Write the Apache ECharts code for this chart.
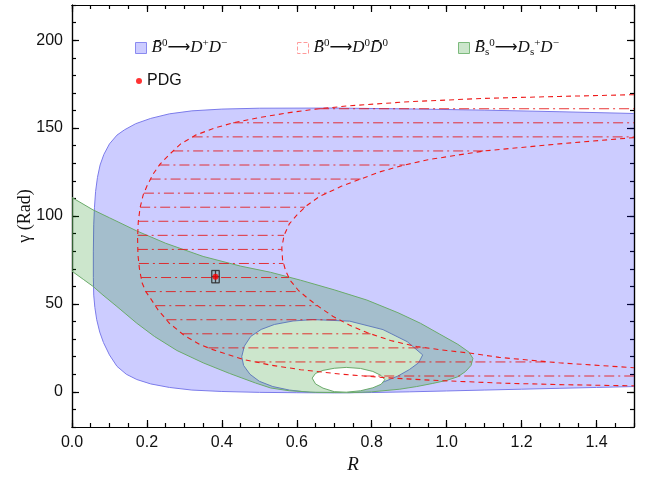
<!DOCTYPE html>
<html lang="en">
<head>
<meta charset="UTF-8">
<title>gamma vs R</title>
<script src="https://cdn.jsdelivr.net/npm/echarts@6.0.0/dist/echarts.min.js"></script>
</head>
<body style="margin:0">
<div id="chart" style="width:645px;height:485px;"></div>
<script>
// region boundaries, points are [R, gamma]
var blueRegion = [[1.5,158.3],[1.3,159.3],[1.1,160.2],[0.9,160.9],[0.7,161.4],[0.5,161.3],[0.4,160.8],[0.32,159.8],[0.26,158.1],[0.21,155.5],[0.17,152.5],[0.14,149],[0.12,146],[0.1,141],[0.085,135],[0.075,129],[0.068,122],[0.063,114],[0.06,105],[0.058,95],[0.057,80],[0.057,65],[0.058,55],[0.061,48],[0.066,41],[0.074,34],[0.084,28],[0.1,21],[0.12,14.5],[0.145,10],[0.173,7],[0.21,4.5],[0.26,2.5],[0.32,1],[0.4,0.2],[0.5,-0.3],[0.6,-0.5],[0.7,-0.6],[0.8,-0.4],[0.9,0],[1.0,0.5],[1.1,1],[1.2,1.5],[1.3,2],[1.4,2.5],[1.5,3]];
var blueHole = [[0.643,41.1],[0.741,40.2],[0.83,35.4],[0.895,28.5],[0.936,21],[0.925,16.5],[0.9,12.6],[0.87,9],[0.835,5.9],[0.79,2.8],[0.736,0.4],[0.69,-0.3],[0.635,-0.3],[0.58,1],[0.536,3],[0.5,6],[0.475,10],[0.458,15],[0.453,20],[0.46,26],[0.477,31.5],[0.505,35.5],[0.54,38.3],[0.59,40.3]];
var greenBand = [[0,110.5],[0.056,103.5],[0.1,99],[0.173,91.5],[0.25,84.5],[0.35,77],[0.45,71.5],[0.53,68],[0.61,63.5],[0.7,58],[0.787,52.2],[0.87,45],[0.93,39],[0.98,33],[1.03,27],[1.06,22.5],[1.07,19],[1.065,15],[1.05,11.5],[1.03,8.6],[1.0,6.5],[0.963,4.8],[0.92,3],[0.875,1.5],[0.8,0],[0.74,-0.5],[0.65,-0.3],[0.58,0.6],[0.53,2.2],[0.49,5],[0.42,10.5],[0.35,16.5],[0.28,23.5],[0.22,31.5],[0.173,39],[0.12,48.5],[0.08,55.5],[0.056,60],[0.03,64],[0,68.6]];
var greenHole = [[0.641,7.8],[0.65,10.5],[0.67,12.2],[0.7,13.4],[0.732,13.9],[0.77,13.3],[0.803,11.6],[0.825,9.3],[0.835,6.9],[0.825,4.3],[0.803,2.3],[0.77,0.6],[0.732,-0.2],[0.7,0.1],[0.67,2.1],[0.65,4.5]];
var redOuter = [[1.5,169],[1.3,168],[1.1,166.9],[0.9,165],[0.74,162.7],[0.65,160.8],[0.58,158.8],[0.5,156],[0.43,153],[0.38,150],[0.33,146],[0.29,141],[0.26,135],[0.235,129.5],[0.217,124],[0.2,117],[0.19,112],[0.182,105],[0.177,97],[0.175,88],[0.176,78],[0.18,70],[0.187,62],[0.197,57],[0.21,53],[0.23,46.5],[0.26,39],[0.3,32],[0.34,27],[0.376,24],[0.42,21],[0.456,18.5],[0.53,15.2],[0.61,12.6],[0.72,10],[0.84,8],[0.96,6.6],[1.14,5],[1.3,4.1],[1.5,3.4]];
var redInner = [[1.5,144.6],[1.3,141],[1.1,137],[0.95,132],[0.88,128.6],[0.82,125],[0.77,121],[0.72,117],[0.66,111],[0.627,106],[0.6,100.5],[0.58,95.5],[0.566,89],[0.56,82],[0.562,75],[0.57,69],[0.582,63.5],[0.605,57.5],[0.635,52.2],[0.665,47.5],[0.696,43],[0.74,38],[0.787,33.7],[0.85,29.2],[0.92,25.7],[1.0,23.5],[1.07,21.8],[1.14,19.6],[1.3,16.5],[1.5,13.7]];
var hatchLevels = [9,17,25,33,41,49,57,65,73,81,89,97,105,113,121,129,137,145,153,161];
var pdgPoint = [0.383, 65.5];
var pdgErr = [0.01, 3.5];
var xTicks = [0, 0.2, 0.4, 0.6, 0.8, 1.0, 1.2, 1.4];
var yTicks = [0, 50, 100, 150, 200];
var xMax = 1.5;

var legendText = {
  dd: '{it|B\u0304}{sup|0}{ar|\u27F6}{it|D}{sup|+}{it|D}{sup|\u2212}',
  d0: '{it|B\u0304}{sup|0}{ar|\u27F6}{it|D}{sup|0}{it|D\u0304}{sup|0}',
  ds: '{it|B\u0304}{sub|s}{sup|0}{ar|\u27F6}{it|D}{sub|s}{sup|+}{it|D}{sup|\u2212}',
  PDG: '{sans|PDG}'
};

// R on a curve at a given gamma (curves are monotone in gamma)
function rAt(curve, g) {
  for (var i = 0; i < curve.length - 1; i++) {
    var a = curve[i], b = curve[i + 1];
    if ((g <= a[1] && g >= b[1]) || (g >= a[1] && g <= b[1])) {
      return a[0] + (g - a[1]) / (b[1] - a[1]) * (b[0] - a[0]);
    }
  }
  return xMax;
}

function regionSeries(name, pts, fill, stroke, closed) {
  return {
    type: 'custom', name: name, coordinateSystem: 'cartesian2d', clip: true,
    data: [pts[0]],
    itemStyle: { color: fill, borderColor: stroke },
    renderItem: function (params, api) {
      var px = pts.map(function (p) { return api.coord(p); });
      return {
        type: 'group', children: [
          { type: 'polygon', shape: { points: px }, style: { fill: fill, stroke: null } },
          { type: closed ? 'polygon' : 'polyline', shape: { points: px },
            style: { fill: null, stroke: stroke, lineWidth: 1 } }
        ]
      };
    }
  };
}

var redSeries = {
  type: 'custom', name: 'd0', coordinateSystem: 'cartesian2d', clip: true,
  data: [redOuter[0]],
  renderItem: function (params, api) {
    var kids = [];
    hatchLevels.forEach(function (g) {
      var a = api.coord([rAt(redOuter, g), g]);
      var b = api.coord([rAt(redInner, g), g]);
      kids.push({ type: 'line', shape: { x1: a[0], y1: a[1], x2: b[0], y2: b[1] },
        style: { stroke: 'rgba(228,20,20,0.85)', lineWidth: 1, lineDash: [10, 4, 2, 4] } });
    });
    [redOuter, redInner].forEach(function (c) {
      kids.push({ type: 'polyline', shape: { points: c.map(function (p) { return api.coord(p); }) },
        style: { fill: null, stroke: '#ee1a1a', lineWidth: 1.1, lineDash: [5, 4] } });
    });
    return { type: 'group', children: kids };
  }
};

var errSeries = {
  type: 'custom', coordinateSystem: 'cartesian2d',
  data: [pdgPoint],
  renderItem: function (params, api) {
    var c = api.coord(pdgPoint);
    var t = api.coord([pdgPoint[0], pdgPoint[1] + pdgErr[1]]);
    var b = api.coord([pdgPoint[0], pdgPoint[1] - pdgErr[1]]);
    var l = api.coord([pdgPoint[0] - pdgErr[0], pdgPoint[1]]);
    var r = api.coord([pdgPoint[0] + pdgErr[0], pdgPoint[1]]);
    var st = { stroke: 'rgba(40,40,40,0.85)', lineWidth: 1.3 };
    var h = (b[1] - t[1]) / 2;
    return { type: 'group', children: [
      { type: 'line', shape: { x1: c[0], y1: t[1], x2: c[0], y2: b[1] }, style: st },
      { type: 'line', shape: { x1: c[0] - 4, y1: t[1], x2: c[0] + 4, y2: t[1] }, style: st },
      { type: 'line', shape: { x1: c[0] - 4, y1: b[1], x2: c[0] + 4, y2: b[1] }, style: st },
      { type: 'line', shape: { x1: l[0], y1: c[1], x2: r[0], y2: c[1] }, style: st },
      { type: 'line', shape: { x1: l[0], y1: c[1] - h, x2: l[0], y2: c[1] + h }, style: st },
      { type: 'line', shape: { x1: r[0], y1: c[1] - h, x2: r[0], y2: c[1] + h }, style: st }
    ] };
  }
};

var lineSt = { color: '#000', width: 1.2 };
function xAxis(pos, major, labels) {
  var ax = { type: 'value', min: 0, max: xMax, position: pos, splitLine: { show: false },
    axisLine: { show: true, onZero: false, lineStyle: lineSt },
    axisTick: { show: true, inside: true, length: major ? 7 : 4, lineStyle: lineSt },
    axisLabel: { show: false } };
  if (major) {
    ax.axisTick.customValues = xTicks;
    if (labels) {
      ax.axisLabel = { show: true, customValues: xTicks, margin: 8,
        formatter: function (v) { return v.toFixed(1); },
        fontFamily: 'Liberation Sans', fontSize: 16, color: '#111' };
      ax.name = 'R'; ax.nameLocation = 'middle'; ax.nameGap = 27;
      ax.nameTextStyle = { fontFamily: 'Liberation Serif', fontStyle: 'italic', fontSize: 19, color: '#111' };
    }
  } else {
    ax.interval = 0.05;
  }
  return ax;
}
function yAxis(pos, major, labels) {
  var ax = { type: 'value', min: -20, max: 220, position: pos, splitLine: { show: false },
    axisLine: { show: true, onZero: false, lineStyle: lineSt },
    axisTick: { show: true, inside: true, length: major ? 7 : 4, lineStyle: lineSt },
    axisLabel: { show: false } };
  if (major) {
    ax.axisTick.customValues = yTicks;
    if (labels) {
      ax.axisLabel = { show: true, customValues: yTicks, margin: 9,
        fontFamily: 'Liberation Sans', fontSize: 16, color: '#111' };
      ax.name = '\u03B3 (Rad)'; ax.nameLocation = 'middle'; ax.nameGap = 38;
      ax.nameMoveOverlap = false;
      ax.nameTextStyle = { fontFamily: 'Liberation Serif', fontSize: 18, color: '#111' };
    }
  } else {
    ax.interval = 10;
  }
  return ax;
}

var rich = {
  it: { fontFamily: 'Liberation Serif', fontStyle: 'italic', fontSize: 17, color: '#111', lineHeight: 20 },
  sup: { fontFamily: 'Liberation Serif', fontSize: 11, color: '#111', lineHeight: 10, verticalAlign: 'top' },
  sub: { fontFamily: 'Liberation Serif', fontSize: 11, color: '#111', lineHeight: 10, verticalAlign: 'bottom' },
  ar: { fontFamily: 'DejaVu Sans', fontSize: 16, color: '#111', lineHeight: 20 },
  sans: { fontFamily: 'Liberation Sans', fontSize: 16, color: '#111', lineHeight: 20 }
};
function legendAt(name, left, top, icon, style, w, h) {
  return { left: left, top: top, selectedMode: false, itemWidth: w, itemHeight: h, itemGap: 0,
    data: [{ name: name, icon: icon, itemStyle: style }],
    formatter: function (n) { return legendText[n]; },
    textStyle: { rich: rich } };
}

var chart = echarts.init(document.getElementById('chart'));
chart.setOption({
  animation: false,
  grid: { left: 72, right: 11, top: 5, bottom: 58 },
  xAxis: [xAxis('bottom', true, true), xAxis('bottom', false), xAxis('top', true), xAxis('top', false)],
  yAxis: [yAxis('left', true, true), yAxis('left', false), yAxis('right', true), yAxis('right', false)],
  legend: [
    legendAt('dd', 130, 33, 'rect', { color: 'rgba(0,0,255,0.2)', borderColor: '#8a8af0', borderWidth: 1 }, 11, 11),
    legendAt('d0', 292, 33, 'rect', { color: 'rgba(255,255,255,0)', borderColor: '#ff9a9a', borderWidth: 1, borderType: 'dashed' }, 11, 11),
    legendAt('ds', 453, 33, 'rect', { color: 'rgba(0,128,0,0.2)', borderColor: '#7cba7c', borderWidth: 1 }, 11, 11),
    legendAt('PDG', 131, 68, 'circle', { color: '#ff0000' }, 6, 6)
  ],
  series: [
    regionSeries('dd', blueRegion, 'rgba(0,0,255,0.2)', '#7b7bea', false),
    regionSeries('hole1', blueHole, '#ffffff', '#7b7bea', true),
    regionSeries('ds', greenBand, 'rgba(0,128,0,0.2)', '#6aaa6a', true),
    regionSeries('hole2', greenHole, '#ffffff', '#6aaa6a', true),
    redSeries,
    errSeries,
    { type: 'scatter', name: 'PDG', data: [pdgPoint], symbolSize: 6, itemStyle: { color: '#ff0000' }, z: 5 }
  ]
});
</script>
</body>
</html>
